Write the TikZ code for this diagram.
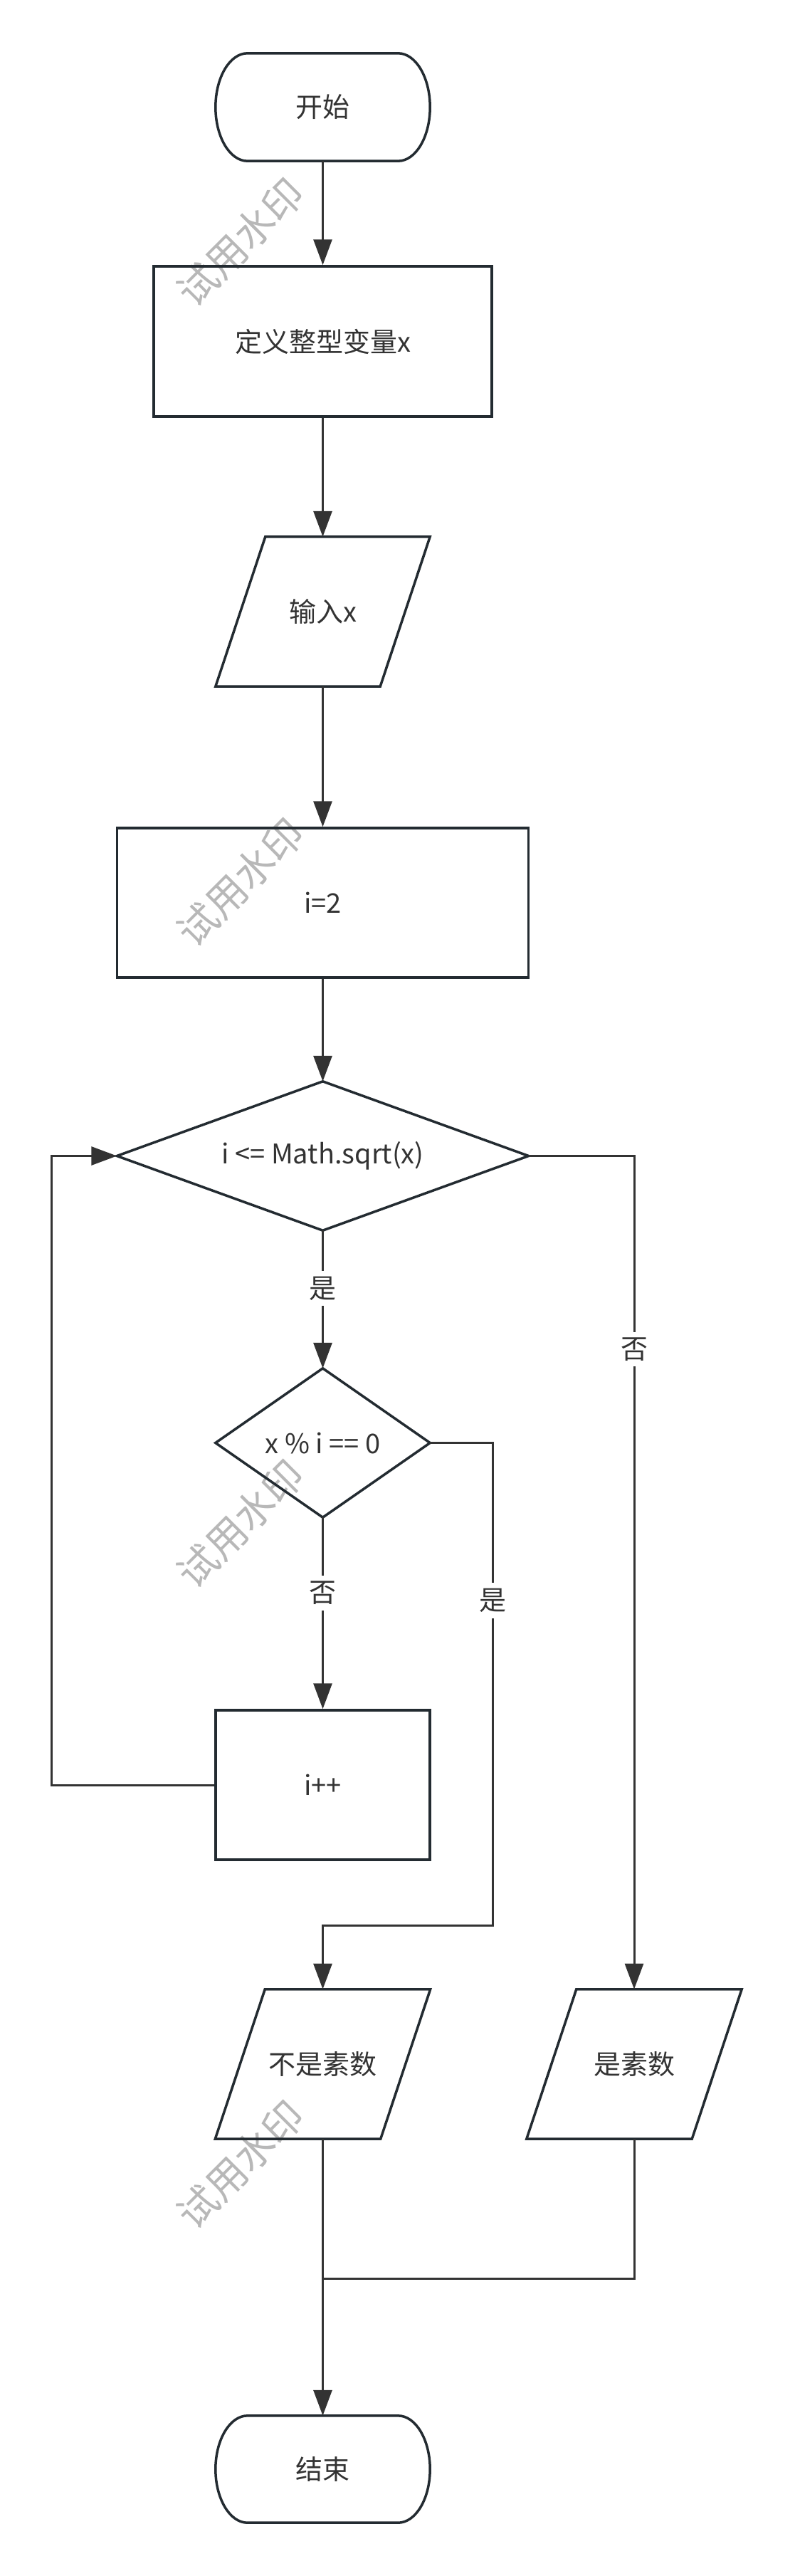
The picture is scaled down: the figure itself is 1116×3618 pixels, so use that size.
\documentclass[tikz,border=0pt]{standalone}
\usepackage{fontspec}
\setmainfont{Noto Sans CJK SC}
\usetikzlibrary{arrows.meta,calc}
\definecolor{bordc}{HTML}{232B31}
\definecolor{linec}{HTML}{333333}
\definecolor{txtc}{HTML}{333333}
\definecolor{wmc}{HTML}{B8B8B8}
\newcommand\termshape[1]{%
  \draw[outline] ($(#1.north west)+(45,0)$) -- ($(#1.north east)+(-45,0)$)
   .. controls ($(#1.north east)+(-20,0)$) and ($(#1.north east)+(0,34)$) .. (#1.east)
   .. controls ($(#1.south east)+(0,-34)$) and ($(#1.south east)+(-20,0)$) .. ($(#1.south east)+(-45,0)$)
   -- ($(#1.south west)+(45,0)$)
   .. controls ($(#1.south west)+(20,0)$) and ($(#1.south west)+(0,-34)$) .. (#1.west)
   .. controls ($(#1.north west)+(0,34)$) and ($(#1.north west)+(20,0)$) .. ($(#1.north west)+(45,0)$) -- cycle;}
\newcommand\ioshape[1]{%
  \draw[outline] ($(#1.north west)+(70,0)$) -- (#1.north east) -- ($(#1.south east)+(-70,0)$) -- (#1.south west) -- cycle;}
\newcommand\decshape[1]{%
  \draw[outline] (#1.north) -- (#1.east) -- (#1.south) -- (#1.west) -- cycle;}
\begin{document}
\begin{tikzpicture}[x=1pt,y=-1pt,
  holder/.style={inner sep=0pt, text=txtc, font=\fontsize{38}{46}\selectfont},
  outline/.style={draw=bordc, line width=3.5pt, line join=miter},
  procbox/.style={holder, draw=bordc, line width=3.5pt},
  conn/.style={draw=linec, line width=3pt},
  arr/.style={conn, -{Triangle[length=36pt,width=26pt]}},
  lab/.style={fill=white, text=txtc, font=\fontsize{38}{46}\selectfont, inner xsep=2pt, inner ysep=8pt},
  wm/.style={text=wmc, font=\fontsize{56}{66}\selectfont, rotate=45, inner sep=0pt}]
\fill[white] (0,0) rectangle (1116,3618);
\useasboundingbox (0,0) rectangle (1116,3618);

% watermarks
\node[wm] (wm1) at (338,340) {试用水印};
\node[wm] (wm2) at (338,1239) {试用水印};
\node[wm] (wm3) at (338,2140) {试用水印};
\node[wm] (wm4) at (338,3040) {试用水印};

% nodes
\node[holder, minimum width=301pt, minimum height=151pt] (start) at (453.5,150.5) {开始};
\termshape{start}
\node[procbox, minimum width=475pt, minimum height=211pt] (def) at (453.5,479.5) {定义整型变量x};
\node[holder, minimum width=301pt, minimum height=210pt] (inp) at (453.5,859) {输入x};
\ioshape{inp}
\node[procbox, minimum width=578pt, minimum height=210pt] (init) at (453.5,1268) {i=2};
\node[holder, minimum width=578pt, minimum height=209pt] (d1) at (453.5,1623.5) {i <= Math.sqrt(x)};
\decshape{d1}
\node[holder, minimum width=301pt, minimum height=209pt] (d2) at (453.5,2026.5) {x \% i == 0};
\decshape{d2}
\node[procbox, minimum width=301pt, minimum height=210pt] (inc) at (453.5,2507) {i++};
\node[holder, minimum width=302pt, minimum height=210pt] (np) at (453.5,2899) {不是素数};
\ioshape{np}
\node[holder, minimum width=302pt, minimum height=210pt] (pr) at (891,2899) {是素数};
\ioshape{pr}
\node[holder, minimum width=301pt, minimum height=150pt] (fin) at (453.5,3468) {结束};
\termshape{fin}
\coordinate (join) at (453.5,3200);

% connectors
\draw[arr] (start.south) -- (def.north);
\draw[arr] (def.south) -- (inp.north);
\draw[arr] (inp.south) -- (init.north);
\draw[arr] (init.south) -- (d1.north);
\draw[arr] (d1.south) -- node[lab, pos=0.42] {是} (d2.north);
\draw[arr] (d2.south) -- node[lab, pos=0.395] {否} (inc.north);
\draw[arr] (d2.east) -- ++(88.5,0) -- node[lab, pos=0.327] {是} ++(0,677.5) -| (np.north);
\draw[arr] (d1.east) -| node[lab, pos=0.616] {否} (pr.north);
\draw[arr] (inc.west) -- ++(-228.5,0) |- (d1.west);
\draw[arr] (np.south) -- (fin.north);
\draw[conn] (pr.south) |- (join);
\end{tikzpicture}
\end{document}
